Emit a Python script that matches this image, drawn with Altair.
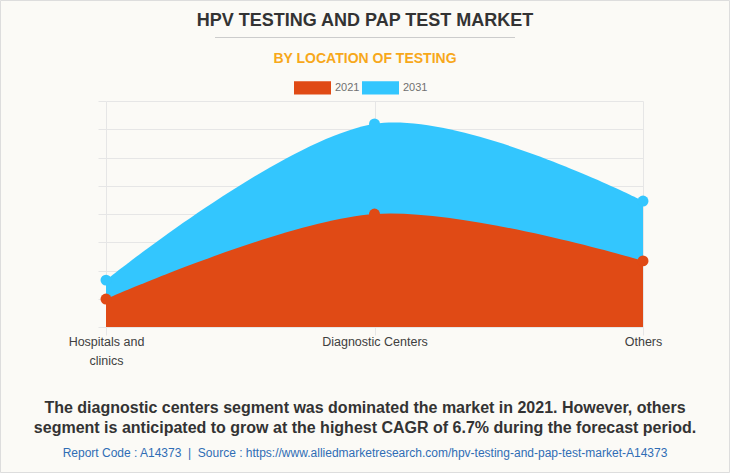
import altair as alt
import pandas as pd

categories = ["Hospitals and clinics", "Diagnostic Centers", "Others"]
years = ["2021", "2031"]
values_2021 = [0.99, 4.0, 2.34]
values_2031 = [1.66, 7.19, 4.46]
colors = ["#E04A15", "#33C6FE"]

title_text = "HPV TESTING AND PAP TEST MARKET"
subtitle_text = "BY LOCATION OF TESTING"
note_lines = [
    "The diagnostic centers segment was dominated the market in 2021. However, others",
    "segment is anticipated to grow at the highest CAGR of 6.7% during the forecast period.",
]
source_text = "Report Code : A14373 \u00a0|\u00a0 Source : https://www.alliedmarketresearch.com/hpv-testing-and-pap-test-market-A14373"

rows = []
for c, v in zip(categories, values_2021):
    rows.append({"category": c, "year": "2021", "value": v})
for c, v in zip(categories, values_2031):
    rows.append({"category": c, "year": "2031", "value": v})
df = pd.DataFrame(rows)

W, H = 537, 226
PL, PT = 106, 101

xenc = alt.X(
    "category:N",
    sort=categories,
    scale=alt.Scale(domain=categories, type="point", padding=0),
    axis=alt.Axis(
        title=None,
        labelAngle=0,
        labelFont="Liberation Sans",
        labelFontSize=12.5,
        labelColor="#404040",
        labelPadding=0,
        labelExpr="datum.label == 'Hospitals and clinics' ? ['Hospitals and', 'clinics'] : datum.label",
        labelLineHeight=19,
        domain=False,
        grid=True,
        gridColor="#e6e6e6",
        tickColor="#e6e6e6",
        tickSize=8,
    ),
)
yenc = alt.Y(
    "value:Q",
    scale=alt.Scale(domain=[0, 8], nice=False),
    axis=alt.Axis(
        title=None,
        labels=False,
        domain=False,
        tickCount=8,
        grid=True,
        gridColor="#e6e6e6",
        tickColor="#e6e6e6",
        tickSize=8,
    ),
)
color = alt.Color(
    "year:N",
    scale=alt.Scale(domain=years, range=colors),
    legend=alt.Legend(
        title=None,
        orient="none",
        legendX=188,
        legendY=-32,
        direction="horizontal",
        symbolType="M-1,-0.36H1V0.36H-1Z",
        symbolSize=1369,
        symbolStrokeWidth=0,
        symbolOpacity=1,
        labelFont="Liberation Sans",
        labelFontSize=11,
        labelColor="#707070",
        labelOffset=4,
        columnPadding=2,
        padding=0,
    ),
)

base = alt.Chart(df)
area_2031 = base.transform_filter("datum.year == '2031'").mark_area(
    interpolate="cardinal", opacity=1
).encode(x=xenc, y=yenc, color=color)
area_2021 = base.transform_filter("datum.year == '2021'").mark_area(
    interpolate="cardinal", opacity=1
).encode(x=xenc, y=yenc, color=color)
pts = base.mark_circle(size=120, opacity=1).encode(
    x=xenc, y=yenc,
    color=alt.Color("year:N", scale=alt.Scale(domain=years, range=colors), legend=None),
)

tdf = pd.DataFrame({"t": [title_text]})
title = alt.Chart(tdf).mark_text(
    font="Liberation Sans", fontWeight="bold", fontSize=18, color="#333333", align="center", baseline="middle"
).encode(text="t:N", x=alt.value(365 - PL), y=alt.value(21 - PT))

sep = alt.Chart(tdf).mark_rule(color="#cccccc", strokeWidth=1).encode(
    x=alt.value(215 - PL), x2=alt.value(515 - PL), y=alt.value(37.5 - PT)
)

sub = alt.Chart(pd.DataFrame({"t": [subtitle_text]})).mark_text(
    font="Liberation Sans", fontWeight="bold", fontSize=14, color="#F7A81B", align="center", baseline="middle"
).encode(text="t:N", x=alt.value(365 - PL), y=alt.value(59 - PT))

note1 = alt.Chart(pd.DataFrame({"t": [note_lines[0]]})).mark_text(
    font="Liberation Sans", fontWeight="bold", fontSize=16, color="#333333", align="center", baseline="middle"
).encode(text="t:N", x=alt.value(365 - PL), y=alt.value(408 - PT))
note2 = alt.Chart(pd.DataFrame({"t": [note_lines[1]]})).mark_text(
    font="Liberation Sans", fontWeight="bold", fontSize=16, color="#333333", align="center", baseline="middle"
).encode(text="t:N", x=alt.value(365 - PL), y=alt.value(428 - PT))
src = alt.Chart(pd.DataFrame({"t": [source_text]})).mark_text(
    font="Liberation Sans", fontSize=12, color="#2F6DB5", align="center", baseline="middle"
).encode(text="t:N", x=alt.value(365 - PL), y=alt.value(453 - PT))

border = alt.Chart(tdf).mark_rect(fill=None, stroke="#dddddd", strokeWidth=1).encode(
    x=alt.value(-PL + 0.5), x2=alt.value(730 - PL - 0.5), y=alt.value(-PT + 0.5), y2=alt.value(473 - PT - 0.5)
)

chart = alt.layer(
    border, area_2031, area_2021, pts, title, sep, sub, note1, note2, src
).properties(
    width=W, height=H,
    autosize=alt.AutoSizeParams(type="none"),
    padding={"left": PL, "top": PT, "right": 730 - PL - W, "bottom": 473 - PT - H},
).configure(background="#FBFAF6").configure_view(stroke=None)

chart.save("out.html", embed_options={"renderer": "svg", "actions": False})
